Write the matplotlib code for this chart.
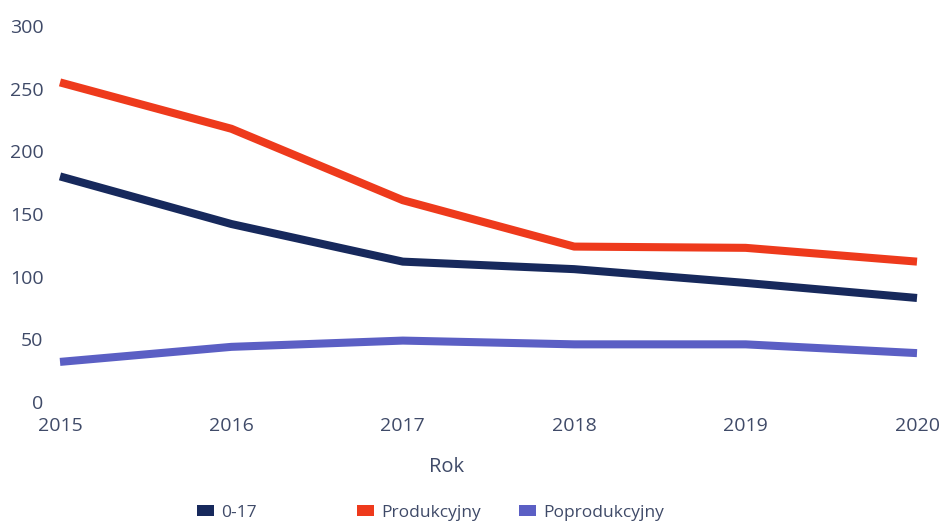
import matplotlib.pyplot as plt
from matplotlib.patches import Patch

# data
years = [2015, 2016, 2017, 2018, 2019, 2020]
age_0_17 = [180, 142, 112, 106, 95, 83]
produkcyjny = [255, 218, 161, 124, 123, 112]
poprodukcyjny = [32, 44, 49, 46, 46, 39]
series_names = ['0-17', 'Produkcyjny', 'Poprodukcyjny']
series_colors = ['#17295c', '#ee3a1c', '#5b5fc4']
y_ticks = [0, 50, 100, 150, 200, 250, 300]

text_color = '#3f4a68'
plt.rcParams['font.family'] = ['Open Sans', 'DejaVu Sans']

W, H = 940, 524
fig = plt.figure(figsize=(W / 100, H / 100), dpi=100)
ax = fig.add_axes([60 / W, 1 - 402 / H, 857 / W, 376 / H])

for values, color in zip([age_0_17, produkcyjny, poprodukcyjny], series_colors):
    ax.plot(years, values, color=color, linewidth=5.8, solid_capstyle='butt',
            solid_joinstyle='round', clip_on=False)

ax.set_xlim(years[0], years[-1])
ax.set_ylim(0, 300)
ax.set_xticks(years)
ax.set_yticks(y_ticks)
ax.tick_params(axis='both', length=0, labelsize=14, colors=text_color)
ax.tick_params(axis='y', pad=12)
ax.tick_params(axis='x', pad=11)
for s in ax.spines.values():
    s.set_visible(False)

# axis title "Rok"
fig.text(447 / W, 1 - 467 / H, 'Rok', fontsize=14.5, color=text_color,
         ha='center', va='center')

# legend entries placed separately, like the reference
legend_x = [197, 357, 519]
for name, color, lx in zip(series_names, series_colors, legend_x):
    handle = Patch(facecolor=color, edgecolor='none')
    fig.legend([handle], [name], loc='center left',
               bbox_to_anchor=(lx / W, 1 - 513 / H), frameon=False,
               fontsize=12.5, labelcolor=text_color, handlelength=1.0,
               handleheight=0.6, handletextpad=0.4, borderpad=0, borderaxespad=0)

fig.savefig('out.png', dpi=100)
